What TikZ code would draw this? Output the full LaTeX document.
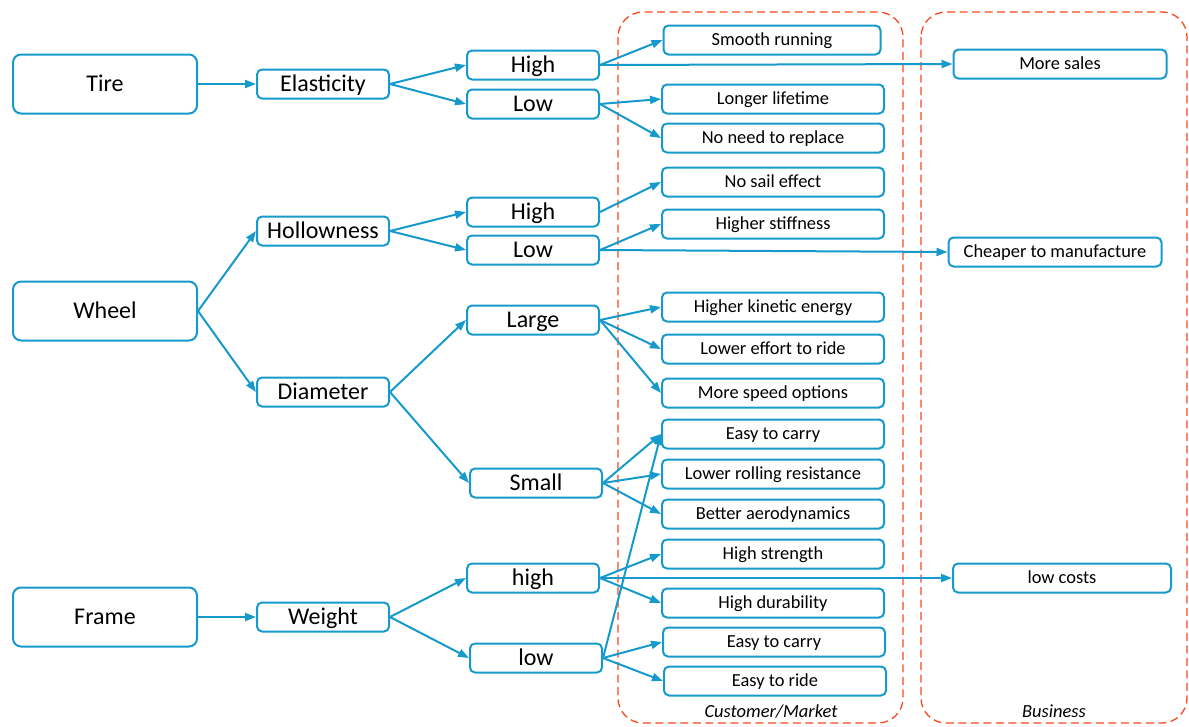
\documentclass[tikz,border=0pt]{standalone}
\usepackage{fontspec}
\setmainfont{Carlito}
\usetikzlibrary{arrows.meta}
\definecolor{cblue}{RGB}{22,154,204}
\definecolor{cred}{RGB}{250,70,30}
\begin{document}
\begin{tikzpicture}[x=1pt,y=-1pt,
 box/.style={draw=cblue, line width=2pt, fill=white, inner sep=0pt, align=center},
 bigbox/.style={box, rounded corners=8pt, minimum width=184pt, minimum height=59pt, font=\fontsize{24}{28}\selectfont, text height=19pt, text depth=4pt},
 midbox/.style={box, rounded corners=5pt, minimum width=132pt, minimum height=29pt, font=\fontsize{24}{28}\selectfont, text height=19pt, text depth=4pt},
 leaf/.style={box, rounded corners=5pt, minimum width=222pt, minimum height=29pt, font=\fontsize{18.4}{22}\selectfont, text height=14.6pt, text depth=3pt},
 conn/.style={draw=cblue, line width=2pt, -{Triangle[length=11pt,width=8pt]}},
 group/.style={draw=cred, line width=1.3pt, dash pattern=on 8pt off 4.5pt, rounded corners=25pt},
 glabel/.style={font=\fontsize{18.5}{22}\selectfont\itshape, inner sep=0pt}
]
\useasboundingbox (0,0) rectangle (1189,726);
% groups
\draw[group] (618,12) rectangle (903,723);
\draw[group] (921,12) rectangle (1187,723);
\node[glabel] (gcm) at (771,711) {Customer/Market};
\node[glabel] (gbus) at (1054,711) {Business};

% left column
\node[bigbox] (tire) at (105,84) {Tire};
\node[bigbox] (wheel) at (105,311) {Wheel};
\node[bigbox] (frame) at (105,617) {Frame};

% second column
\node[midbox] (elast) at (323,84) {Elasticity};
\node[midbox] (hollow) at (323,231) {Hollowness};
\node[midbox] (diam) at (323,392) {Diameter};
\node[midbox] (weight) at (323,617) {Weight};

% third column
\node[midbox] (ehigh) at (533,65) {High};
\node[midbox] (elow) at (533,104) {Low};
\node[midbox] (hhigh) at (533,212) {High};
\node[midbox] (hlow) at (533,250) {Low};
\node[midbox] (large) at (533,320) {Large};
\node[midbox] (small) at (536,483) {Small};
\node[midbox] (whigh) at (533,578) {high};
\node[midbox] (wlow) at (536,658) {low};

% customer / market
\node[leaf, minimum width=217pt] (smooth) at (772,40) {Smooth running};
\node[leaf] (lifetime) at (773,99) {Longer lifetime};
\node[leaf] (replace) at (773,138) {No need to replace};
\node[leaf] (sail) at (773,182) {No sail effect};
\node[leaf] (stiff) at (773,224) {Higher stiffness};
\node[leaf] (kinetic) at (773,307) {Higher kinetic energy};
\node[leaf] (effort) at (773,349) {Lower effort to ride};
\node[leaf] (speed) at (773,393) {More speed options};
\node[leaf] (carry) at (773,434) {Easy to carry};
\node[leaf] (rolling) at (773,474) {Lower rolling resistance};
\node[leaf] (aero) at (773,514) {Better aerodynamics};
\node[leaf] (strength) at (773,554) {High strength};
\node[leaf] (durab) at (773,603) {High durability};
\node[leaf] (carryb) at (774,642) {Easy to carry};
\node[leaf] (ride) at (775,681) {Easy to ride};

% business
\node[leaf, minimum width=213pt] (sales) at (1060,64) {More sales};
\node[leaf, minimum width=213pt] (cheap) at (1055,252) {Cheaper to manufacture};
\node[leaf, minimum width=218pt] (costs) at (1062,578) {low costs};

% connectors
\draw[conn] (tire.east) -- (elast.west);
\draw[conn] (elast.east) -- (ehigh.west);
\draw[conn] (elast.east) -- (elow.west);
\draw[conn] (ehigh.east) -- (smooth.west);
\draw[conn] (ehigh.east) -- (sales.west);
\draw[conn] (elow.east) -- (lifetime.west);
\draw[conn] (elow.east) -- (replace.west);

\draw[conn] (wheel.east) -- (hollow.west);
\draw[conn] (wheel.east) -- (diam.west);
\draw[conn] (hollow.east) -- (hhigh.west);
\draw[conn] (hollow.east) -- (hlow.west);
\draw[conn] (hhigh.east) -- (sail.west);
\draw[conn] (hlow.east) -- (stiff.west);
\draw[conn] (hlow.east) -- (cheap.west);

\draw[conn] (diam.east) -- (large.west);
\draw[conn] (diam.east) -- (small.west);
\draw[conn] (large.east) -- (kinetic.west);
\draw[conn] (large.east) -- (effort.west);
\draw[conn] (large.east) -- (speed.west);
\draw[conn] (small.east) -- (carry.west);
\draw[conn] (small.east) -- (rolling.west);
\draw[conn] (small.east) -- (aero.west);

\draw[conn] (frame.east) -- (weight.west);
\draw[conn] (weight.east) -- (whigh.west);
\draw[conn] (weight.east) -- (wlow.west);
\draw[conn] (whigh.east) -- (strength.west);
\draw[conn] (whigh.east) -- (durab.west);
\draw[conn] (whigh.east) -- (costs.west);
\draw[conn] (wlow.east) -- (carry.west);
\draw[conn] (wlow.east) -- (carryb.west);
\draw[conn] (wlow.east) -- (ride.west);
\end{tikzpicture}
\end{document}
